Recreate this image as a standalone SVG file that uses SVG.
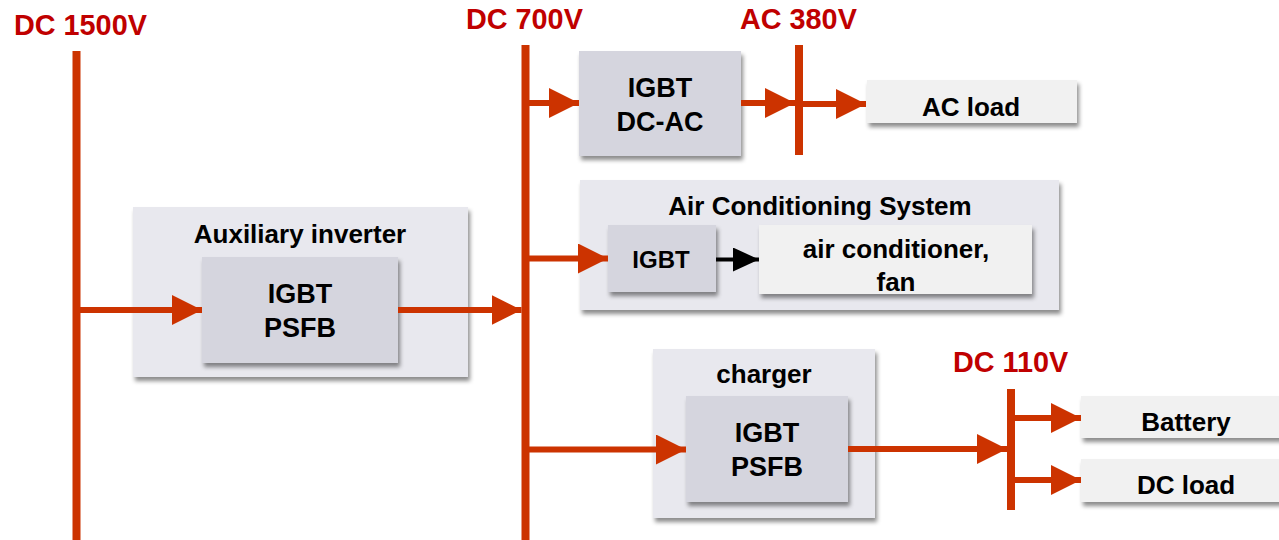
<svg xmlns="http://www.w3.org/2000/svg" width="1279" height="540" viewBox="0 0 1279 540">
<defs>
<filter id="sh" x="-10%" y="-10%" width="125%" height="135%">
<feDropShadow dx="2" dy="4" stdDeviation="2.2" flood-color="#000" flood-opacity="0.45"/>
</filter>
<marker id="ar" markerUnits="userSpaceOnUse" markerWidth="30" markerHeight="30" refX="30" refY="15" orient="auto">
<path d="M0,0 L30,15 L0,30 Z" fill="#cc3300"/>
</marker>
<marker id="ab" markerUnits="userSpaceOnUse" markerWidth="26" markerHeight="24" refX="26" refY="12" orient="auto">
<path d="M0,0 L26,12 L0,24 Z" fill="#000"/>
</marker>
</defs>
<style>
text{font-family:"Liberation Sans",Arial,sans-serif;font-weight:bold;text-anchor:middle;fill:#000}
.v{fill:#c00000;font-size:28.8px;text-anchor:start}
.bus{stroke:#cc3300;stroke-width:8;fill:none}
.c{stroke:#cc3300;stroke-width:6;fill:none}
.outer{fill:#e8e8ee;filter:url(#sh)}
.inner{fill:#d5d5de;filter:url(#sh)}
.load{fill:#f1f1f1;filter:url(#sh)}
.t27{font-size:27px}
.t26{font-size:26px}
.t24{font-size:24px}
</style>
<rect width="1279" height="540" fill="#fff"/>

<g id="bus-dc1500">
<text class="v" x="14" y="35">DC 1500V</text>
<line class="bus" x1="76.5" y1="51" x2="76.5" y2="540"/>
</g>
<g id="bus-dc700">
<text class="v" x="466" y="29">DC 700V</text>
<line class="bus" x1="525.5" y1="45" x2="525.5" y2="540"/>
</g>
<g id="bus-ac380">
<text class="v" x="740" y="29">AC 380V</text>
<line class="bus" x1="799" y1="45" x2="799" y2="155"/>
</g>
<g id="bus-dc110">
<text class="v" x="953" y="372">DC 110V</text>
<line class="bus" x1="1011" y1="389" x2="1011" y2="510"/>
</g>

<g id="aux-inverter">
<rect class="outer" x="133" y="207" width="335" height="170"/>
<text class="t26" x="300" y="243">Auxiliary inverter</text>
<rect class="inner" x="202" y="257" width="196" height="106"/>
<text class="t27" x="300" y="303">IGBT</text>
<text class="t27" x="300" y="337">PSFB</text>
</g>

<g id="igbt-dcac">
<rect class="inner" x="579" y="51" width="162" height="105"/>
<text class="t27" x="660" y="97">IGBT</text>
<text class="t27" x="660" y="131">DC-AC</text>
</g>

<g id="ac-load">
<rect class="load" x="867" y="80" width="210" height="43"/>
<text class="t26" x="971" y="116">AC load</text>
</g>

<g id="air-conditioning">
<rect class="outer" x="580" y="180" width="479" height="130"/>
<text class="t26" x="820" y="215">Air Conditioning System</text>
<rect class="inner" x="608" y="225" width="108" height="67"/>
<text class="t24" x="661" y="268">IGBT</text>
<rect class="load" x="759" y="225" width="273" height="69"/>
<text class="t26" x="896" y="258">air conditioner,</text>
<text class="t26" x="896" y="291">fan</text>
</g>

<g id="charger">
<rect class="outer" x="653" y="349" width="222" height="169"/>
<text class="t26" x="764" y="383">charger</text>
<rect class="inner" x="686" y="396" width="162" height="106"/>
<text class="t27" x="767" y="442">IGBT</text>
<text class="t27" x="767" y="476">PSFB</text>
</g>

<g id="battery">
<rect class="load" x="1081" y="396" width="210" height="42"/>
<text class="t26" x="1186" y="431">Battery</text>
</g>
<g id="dc-load">
<rect class="load" x="1081" y="459" width="210" height="43"/>
<text class="t26" x="1186" y="494">DC load</text>
</g>

<g id="connectors">
<line class="c" x1="80" y1="310" x2="202" y2="310" marker-end="url(#ar)"/>
<line class="c" x1="398" y1="310" x2="521.5" y2="310" marker-end="url(#ar)"/>
<line class="c" x1="529" y1="103" x2="579" y2="103" marker-end="url(#ar)"/>
<line class="c" x1="741" y1="103" x2="795" y2="103" marker-end="url(#ar)"/>
<line class="c" x1="803" y1="104" x2="866" y2="104" marker-end="url(#ar)"/>
<line class="c" x1="529" y1="258.5" x2="608" y2="258.5" marker-end="url(#ar)"/>
<line stroke="#000" stroke-width="4" x1="716" y1="259.5" x2="759" y2="259.5" marker-end="url(#ab)"/>
<line class="c" x1="529" y1="449.5" x2="686" y2="449.5" marker-end="url(#ar)"/>
<line class="c" x1="848" y1="449" x2="1007" y2="449" marker-end="url(#ar)"/>
<line class="c" x1="1015" y1="418" x2="1081" y2="418" marker-end="url(#ar)"/>
<line class="c" x1="1015" y1="480" x2="1081" y2="480" marker-end="url(#ar)"/>
</g>
</svg>
